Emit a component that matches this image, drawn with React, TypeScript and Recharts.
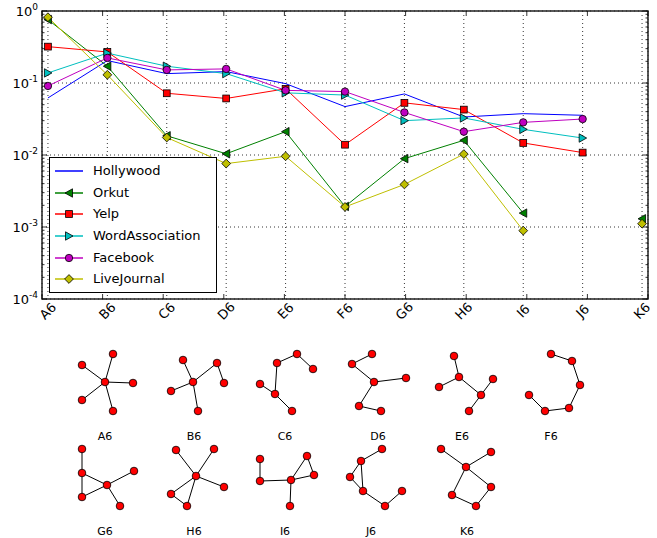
import React from "react";
import {
  LineChart,
  Line,
  XAxis,
  YAxis,
  CartesianGrid,
  ReferenceArea,
  Legend,
  ScatterChart,
  Scatter,
} from "recharts";

// categories (motif ids) shared by the chart and the motif drawings
const categories = ["A6", "B6", "C6", "D6", "E6", "F6", "G6", "H6", "I6", "J6", "K6"];

// motif frequency per network (log scale), null = no value
const hollywood = [0.062, 0.205, 0.135, 0.144, 0.098, 0.047, 0.0705, 0.0337, 0.0375, 0.0356, null];
const orkut = [0.76, 0.171, 0.0185, 0.0104, 0.0211, 0.00193, 0.0089, 0.016, 0.00156, null, 0.0013];
const yelp = [0.32, 0.27, 0.072, 0.061, 0.083, 0.0139, 0.053, 0.0427, 0.0147, 0.0108, null];
const wordAssociation = [0.138, 0.26, 0.171, 0.135, 0.073, 0.068, 0.03, 0.0327, 0.0227, 0.0172, null];
const facebook = [0.091, 0.223, 0.152, 0.157, 0.079, 0.076, 0.039, 0.0211, 0.0284, 0.0316, null];
const liveJournal = [0.82, 0.13, 0.0175, 0.0076, 0.0096, 0.0019, 0.0039, 0.0103, 0.00089, null, 0.00111];

const yMajorTicks = [1e-4, 1e-3, 1e-2, 1e-1, 1];

// motif shapes: node coordinates relative to the motif anchor, and edges as node index pairs
const motifNodes: [number, number][][] = [
  [[0, 28], [8, 0], [-23, 11], [28, 29], [-23, 46], [8, 57]],
  [[-11, 6], [23, 9], [-1, 28], [30, 29], [-23, 37], [4, 57]],
  [[12, 0], [-8, 9], [28, 15], [-25, 30], [-10, 40], [7, 57]],
  [[-6, 0], [-26, 10], [-4, 28], [28, 24], [-19, 52], [3, 57]],
  [[-8, 2], [-3, 23], [-23, 33], [31, 25], [19, 41], [7, 57]],
  [[0, 0], [21, 7], [29, 31], [18, 54], [-6, 57], [-22, 41]],
  [[-23, 0], [-23, 24], [-23, 48], [2, 36], [29, 22], [15, 57]],
  [[-18, 1], [20, 0], [2, 27], [30, 38], [-23, 45], [-7, 57]],
  [[-25, 10], [-25, 32], [6, 31], [22, 7], [29, 26], [5, 57]],
  [[11, 0], [-10, 12], [-21, 28], [-8, 42], [14, 57], [31, 42]],
  [[-26, 0], [24, 3], [-1, 18], [-15, 46], [9, 57], [24, 38]],
];
const motifEdges: [number, number][][] = [
  [[0, 1], [0, 2], [0, 3], [0, 4], [0, 5]],
  [[2, 0], [2, 1], [2, 4], [2, 5], [1, 3]],
  [[1, 0], [0, 2], [1, 4], [3, 4], [4, 5]],
  [[0, 1], [1, 2], [2, 3], [2, 4], [4, 5]],
  [[0, 1], [1, 2], [1, 4], [4, 3], [4, 5]],
  [[0, 1], [1, 2], [2, 3], [3, 4], [4, 5]],
  [[0, 1], [1, 2], [1, 3], [2, 3], [3, 4], [3, 5]],
  [[2, 0], [2, 1], [2, 3], [2, 4], [2, 5], [4, 5]],
  [[0, 1], [1, 2], [2, 3], [3, 4], [2, 4], [2, 5]],
  [[0, 1], [1, 2], [2, 3], [1, 3], [3, 4], [4, 5]],
  [[0, 2], [2, 1], [2, 3], [2, 5], [3, 4], [4, 5]],
];

// ---- layout / styles ----
const FONT = "'DejaVu Sans', sans-serif";
const W = 657;
const CHART_H = 330;
const MOTIF_TOP = 330;
const MOTIF_H = 538 - MOTIF_TOP;
// anchor (centre x, top y) of each motif drawing
const motifAnchorX = [105, 194, 285, 378, 462, 551, 105, 194, 285, 371, 467];
const rowTop = [354, 449];

type MarkerKind = "none" | "triLeft" | "square" | "triRight" | "circle" | "diamond";

const series: { name: string; values: (number | null)[]; color: string; marker: MarkerKind }[] = [
  { name: "Hollywood", values: hollywood, color: "#0000ff", marker: "none" },
  { name: "Orkut", values: orkut, color: "#008000", marker: "triLeft" },
  { name: "Yelp", values: yelp, color: "#ff0000", marker: "square" },
  { name: "WordAssociation", values: wordAssociation, color: "#00bfbf", marker: "triRight" },
  { name: "Facebook", values: facebook, color: "#bf00bf", marker: "circle" },
  { name: "LiveJournal", values: liveJournal, color: "#bfbf00", marker: "diamond" },
];

const rows = categories.map((c, i) => {
  const row: Record<string, number | string | null> = { x: i, cat: c };
  series.forEach((s) => {
    row[s.name] = s.values[i];
  });
  return row;
});

const yMinorTicks: number[] = [];
for (let e = -4; e < 0; e++) {
  for (let m = 2; m <= 9; m++) yMinorTicks.push(m * Math.pow(10, e));
}
const yAllTicks = [...yMajorTicks, ...yMinorTicks];
const xTicks = categories.map((_, i) => i);

function MarkerShape({ kind, cx, cy, color }: { kind: MarkerKind; cx: number; cy: number; color: string }) {
  const sw = 0.8;
  switch (kind) {
    case "square":
      return <rect x={cx - 3.4} y={cy - 3.4} width={6.8} height={6.8} fill={color} stroke="#000" strokeWidth={sw} />;
    case "circle":
      return <circle cx={cx} cy={cy} r={3.7} fill={color} stroke="#000" strokeWidth={sw} />;
    case "diamond":
      return (
        <polygon
          points={`${cx},${cy - 4.4} ${cx + 4.4},${cy} ${cx},${cy + 4.4} ${cx - 4.4},${cy}`}
          fill={color}
          stroke="#000"
          strokeWidth={sw}
        />
      );
    case "triLeft":
      return (
        <polygon
          points={`${cx - 4},${cy} ${cx + 3.5},${cy - 4.2} ${cx + 3.5},${cy + 4.2}`}
          fill={color}
          stroke="#000"
          strokeWidth={sw}
        />
      );
    case "triRight":
      return (
        <polygon
          points={`${cx + 4},${cy} ${cx - 3.5},${cy - 4.2} ${cx - 3.5},${cy + 4.2}`}
          fill={color}
          stroke="#000"
          strokeWidth={sw}
        />
      );
    default:
      return null;
  }
}

function PowerTick(props: any) {
  const { x, y, payload } = props;
  const exp = Math.round(Math.log10(payload.value));
  return (
    <text x={x} y={y} dy={4.5} textAnchor="end" fontSize={13} fill="#000" fontFamily={FONT}>
      10
      <tspan dy={-6} fontSize={9}>
        {exp}
      </tspan>
    </text>
  );
}

function CatTick(props: any) {
  const { x, y, payload } = props;
  return (
    <text
      x={x}
      y={y}
      transform={`rotate(-45 ${x} ${y})`}
      textAnchor="middle"
      dominantBaseline="central"
      fontSize={13}
      fill="#000"
      fontFamily={FONT}
    >
      {categories[payload.value]}
    </text>
  );
}

const isMajor = (v: number) => Math.abs(Math.log10(v) - Math.round(Math.log10(v))) < 1e-6;

// inward tick marks, drawn by mirrored axes
function inTick(side: "left" | "right" | "top" | "bottom") {
  return (props: any) => {
    const { x, y, payload } = props;
    const len = side === "left" || side === "right" ? (isMajor(payload.value) ? 5 : 2.5) : 5;
    let x2 = x;
    let y2 = y;
    if (side === "left") x2 = x + len;
    if (side === "right") x2 = x - len;
    if (side === "top") y2 = y + len;
    if (side === "bottom") y2 = y - len;
    return <line x1={x} y1={y} x2={x2} y2={y2} stroke="#000" strokeWidth={0.8} />;
  };
}

function LegendBox() {
  return (
    <div
      style={{
        width: 168,
        height: 136,
        boxSizing: "border-box",
        border: "1px solid #000",
        background: "#fff",
        paddingTop: 2,
        fontFamily: FONT,
      }}
    >
      {series.map((s) => (
        <div key={s.name} style={{ height: 21.7, display: "flex", alignItems: "center" }}>
          <svg width={34} height={14} style={{ marginLeft: 4, flex: "none" }}>
            <line x1={1} y1={7} x2={29} y2={7} stroke={s.color} strokeWidth={1.5} />
            <MarkerShape kind={s.marker} cx={15} cy={7} color={s.color} />
          </svg>
          <span style={{ marginLeft: 5, fontSize: 13, color: "#000", lineHeight: "14px" }}>{s.name}</span>
        </div>
      ))}
    </div>
  );
}

function MainChart() {
  return (
    <LineChart width={W} height={CHART_H} data={rows} margin={{ top: 11, right: 9, bottom: 0, left: 0 }}>
      <CartesianGrid stroke="#000" strokeWidth={0.8} strokeDasharray="1 3" />
      <XAxis
        dataKey="x"
        type="number"
        domain={[-0.1, 10.1]}
        ticks={xTicks}
        interval={0}
        allowDataOverflow
        height={31}
        tickSize={0}
        tickMargin={12}
        tickLine={false}
        axisLine={false}
        tick={CatTick}
      />
      <XAxis
        xAxisId="top"
        orientation="top"
        mirror
        type="number"
        domain={[-0.1, 10.1]}
        ticks={xTicks}
        interval={0}
        allowDataOverflow
        tickSize={0}
        tickMargin={0}
        tickLine={false}
        axisLine={false}
        tick={inTick("top")}
      />
      <XAxis
        xAxisId="bottom"
        orientation="bottom"
        mirror
        type="number"
        domain={[-0.1, 10.1]}
        ticks={xTicks}
        interval={0}
        allowDataOverflow
        tickSize={0}
        tickMargin={0}
        tickLine={false}
        axisLine={false}
        tick={inTick("bottom")}
      />
      <YAxis
        scale="log"
        type="number"
        domain={[1e-4, 1]}
        ticks={yMajorTicks}
        interval={0}
        allowDataOverflow
        width={42}
        tickSize={0}
        tickMargin={4}
        tickLine={false}
        axisLine={false}
        tick={PowerTick}
      />
      <YAxis
        yAxisId="left"
        orientation="left"
        mirror
        scale="log"
        type="number"
        domain={[1e-4, 1]}
        ticks={yAllTicks}
        interval={0}
        allowDataOverflow
        tickSize={0}
        tickMargin={0}
        tickLine={false}
        axisLine={false}
        tick={inTick("left")}
      />
      <YAxis
        yAxisId="right"
        orientation="right"
        mirror
        scale="log"
        type="number"
        domain={[1e-4, 1]}
        ticks={yAllTicks}
        interval={0}
        allowDataOverflow
        tickSize={0}
        tickMargin={0}
        tickLine={false}
        axisLine={false}
        tick={inTick("right")}
      />
      <ReferenceArea
        x1={-0.1}
        x2={10.1}
        y1={1e-4}
        y2={1}
        fill="none"
        fillOpacity={0}
        stroke="#222"
        strokeWidth={1.5}
        ifOverflow="visible"
      />
      {series.map((s) => (
        <Line
          key={s.name}
          dataKey={s.name}
          name={s.name}
          stroke={s.color}
          strokeWidth={1}
          connectNulls={false}
          isAnimationActive={false}
          dot={
            s.marker === "none"
              ? false
              : (p: any) =>
                  p.value == null || p.cx == null || p.cy == null ? (
                    <g key={p.key} />
                  ) : (
                    <MarkerShape key={p.key} kind={s.marker} cx={p.cx} cy={p.cy} color={s.color} />
                  )
          }
          activeDot={false}
        />
      ))}
      <Legend
        layout="vertical"
        align="center"
        verticalAlign="middle"
        wrapperStyle={{ left: 49, top: 157, width: 168 }}
        content={() => <LegendBox />}
      />
    </LineChart>
  );
}

function MotifChart() {
  const nodePoints: { x: number; y: number }[] = [];
  const edgeSegments: { x: number; y: number }[][] = [];
  const labels: { x: number; y: number; name: string }[] = [];
  categories.forEach((name, m) => {
    const ax = motifAnchorX[m];
    const top = rowTop[m < 6 ? 0 : 1];
    const pts = motifNodes[m].map(([nx, ny]) => ({ x: ax + nx, y: top + ny }));
    pts.forEach((p) => nodePoints.push(p));
    motifEdges[m].forEach(([a, b]) => edgeSegments.push([pts[a], pts[b]]));
    labels.push({ x: ax, y: top + 82, name });
  });
  return (
    <ScatterChart width={W} height={MOTIF_H} margin={{ top: 0, right: 0, bottom: 0, left: 0 }}>
      <XAxis dataKey="x" type="number" domain={[0, W]} hide />
      <YAxis dataKey="y" type="number" domain={[MOTIF_TOP, 538]} reversed hide width={0} />
      {edgeSegments.map((seg, i) => (
        <Scatter
          key={`e${i}`}
          data={seg}
          line={{ stroke: "#000", strokeWidth: 1 }}
          lineType="joint"
          shape={() => <g />}
          isAnimationActive={false}
          legendType="none"
        />
      ))}
      <Scatter
        data={nodePoints}
        isAnimationActive={false}
        shape={(p: any) => <circle cx={p.cx} cy={p.cy} r={3.8} fill="#ff0000" stroke="#000" strokeWidth={0.8} />}
      />
      <Scatter
        data={labels}
        isAnimationActive={false}
        shape={(p: any) => (
          <text
            x={p.cx}
            y={p.cy}
            textAnchor="middle"
            dominantBaseline="central"
            fontSize={11}
            fill="#000"
            fontFamily={FONT}
          >
            {p.payload.name}
          </text>
        )}
      />
    </ScatterChart>
  );
}

export default function App() {
  return (
    <div
      style={{
        position: "absolute",
        left: 0,
        top: 0,
        width: W,
        height: 538,
        background: "#fff",
        fontFamily: FONT,
      }}
    >
      <MainChart />
      <div style={{ position: "absolute", left: 0, top: MOTIF_TOP }}>
        <MotifChart />
      </div>
    </div>
  );
}
